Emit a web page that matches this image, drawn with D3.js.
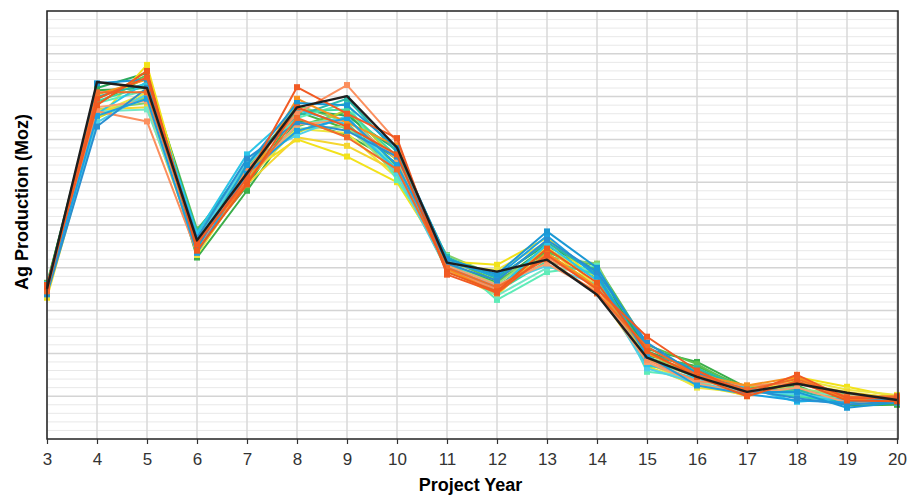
<!DOCTYPE html>
<html>
<head>
<meta charset="utf-8">
<script src="https://cdn.jsdelivr.net/npm/d3@7"></script>
<style>
  html, body { margin: 0; padding: 0; background: #fff; width: 100%; height: 100%; }
  svg { display: block; width: 100vw; height: 100vh; }
</style>
</head>
<body>
<svg id="chart"></svg>
<script>
// Project years on the x axis
const years = [3, 4, 5, 6, 7, 8, 9, 10, 11, 12, 13, 14, 15, 16, 17, 18, 19, 20];

// Base case (black line)
const baseCase = [3.51, 8.34, 8.20, 4.64, 6.21, 7.75, 8.01, 6.81, 4.12, 3.91, 4.19, 3.37, 1.90, 1.45, 1.10, 1.29, 1.08, 0.91];

// Simulated scenarios (drawn in this order)
const scenarioColors = [
  '#3aae4a', '#44b649', '#5cc24e', '#86d06a', '#2baa5c',
  '#9be07a', '#b8d432', '#f2e21a', '#ede640', '#f5d630',
  '#5eecb8', '#73e8c6', '#3fd9a0', '#27b8a8', '#4fd0e8',
  '#2cc5e8', '#f9a070', '#fb8f5e', '#f7931e', '#1ba1e2',
  '#2a8fd0', '#1a98d5', '#f26b2a', '#ee5a1e', '#f15a24'
];
const scenarioValues = [
  [3.58, 8.15, 8.20, 4.24, 5.80, 7.45, 7.10, 6.45, 4.10, 3.65, 4.50, 3.95, 2.10, 1.80, 1.20, 1.25, 0.78, 0.80],
  [3.50, 7.85, 8.45, 4.50, 5.90, 7.65, 7.25, 6.55, 4.00, 3.55, 4.40, 3.75, 1.95, 1.70, 1.18, 1.05, 0.88, 0.82],
  [3.65, 7.95, 8.50, 4.90, 6.25, 7.30, 7.65, 6.35, 4.20, 3.70, 4.35, 4.05, 2.20, 1.75, 1.12, 1.20, 0.92, 0.90],
  [3.42, 7.70, 7.85, 4.65, 6.15, 7.80, 7.40, 6.15, 4.30, 3.80, 4.25, 4.10, 1.90, 1.60, 1.08, 1.15, 1.05, 0.98],
  [3.60, 8.20, 8.55, 4.78, 6.35, 7.70, 7.55, 6.75, 4.22, 3.78, 4.55, 3.90, 2.05, 1.62, 1.12, 1.18, 0.86, 0.86],
  [3.48, 7.55, 8.05, 4.62, 6.10, 7.25, 7.30, 6.20, 4.08, 3.62, 4.45, 3.80, 1.85, 1.45, 1.10, 1.20, 0.98, 0.92],
  [3.55, 7.50, 8.00, 4.40, 6.35, 7.15, 7.70, 6.50, 3.90, 3.50, 4.30, 3.60, 1.85, 1.55, 1.22, 1.35, 0.98, 0.85],
  [3.30, 7.45, 8.74, 4.55, 6.20, 7.00, 6.60, 6.00, 4.15, 4.07, 4.70, 3.70, 1.70, 1.25, 1.02, 1.45, 1.22, 0.98],
  [3.35, 7.60, 8.10, 4.30, 6.05, 7.25, 7.15, 6.10, 4.05, 3.95, 4.60, 3.55, 1.80, 1.20, 1.08, 1.40, 1.15, 1.03],
  [3.40, 7.70, 7.75, 4.45, 5.95, 7.05, 6.85, 6.25, 3.95, 3.35, 4.50, 3.45, 1.75, 1.35, 1.00, 1.30, 1.10, 0.95],
  [3.50, 7.85, 8.15, 4.75, 6.40, 7.50, 7.85, 6.05, 4.28, 3.25, 3.90, 4.05, 1.57, 1.45, 1.12, 1.00, 0.95, 0.92],
  [3.46, 7.65, 7.70, 4.60, 6.10, 7.35, 7.50, 6.30, 4.18, 3.35, 4.00, 3.95, 1.65, 1.35, 1.18, 1.10, 1.00, 0.88],
  [3.56, 7.90, 8.25, 4.70, 6.30, 7.65, 7.70, 6.60, 4.12, 3.45, 4.15, 3.85, 1.70, 1.65, 1.15, 0.98, 0.88, 0.90],
  [3.52, 8.00, 8.30, 4.85, 6.45, 7.55, 7.95, 6.70, 4.25, 3.75, 4.60, 3.85, 2.00, 1.65, 1.15, 1.15, 0.80, 0.95],
  [3.45, 7.40, 8.05, 4.60, 6.50, 7.10, 7.55, 6.20, 3.95, 3.60, 4.05, 3.60, 1.65, 1.30, 1.10, 1.05, 0.90, 0.85],
  [3.62, 7.60, 8.35, 4.80, 6.65, 7.70, 7.35, 6.30, 4.05, 3.50, 4.55, 3.70, 1.75, 1.40, 1.20, 0.87, 0.95, 0.90],
  [3.58, 7.75, 7.90, 4.50, 6.05, 7.35, 7.45, 6.55, 4.05, 3.60, 4.10, 3.45, 1.80, 1.30, 1.05, 1.20, 0.85, 0.90],
  [3.50, 7.66, 7.42, 4.35, 6.30, 7.60, 8.27, 6.95, 3.95, 3.50, 4.25, 3.55, 1.85, 1.35, 1.25, 1.30, 1.00, 0.92],
  [3.52, 8.05, 8.40, 4.38, 6.00, 7.95, 7.40, 6.85, 3.98, 3.40, 4.35, 3.55, 2.00, 1.50, 1.25, 1.45, 0.92, 0.88],
  [3.48, 7.55, 7.95, 4.35, 6.20, 7.20, 7.50, 6.40, 4.15, 3.80, 4.75, 3.80, 1.95, 1.25, 1.05, 0.90, 0.85, 0.95],
  [3.38, 7.30, 8.20, 4.70, 6.55, 7.40, 7.20, 6.60, 4.10, 3.70, 4.65, 3.90, 2.25, 1.50, 1.15, 0.95, 0.80, 0.88],
  [3.40, 8.31, 8.40, 4.45, 6.40, 7.85, 7.80, 6.80, 4.20, 3.85, 4.85, 4.00, 2.15, 1.55, 1.10, 1.10, 0.73, 0.85],
  [3.45, 8.10, 8.10, 4.60, 6.00, 7.50, 7.05, 6.30, 4.00, 3.55, 4.20, 3.40, 2.15, 1.50, 1.15, 1.40, 0.98, 1.00],
  [3.60, 7.80, 8.60, 4.40, 5.95, 7.75, 7.30, 6.65, 3.90, 3.45, 4.45, 3.65, 2.05, 1.45, 1.00, 1.35, 0.90, 0.88],
  [3.55, 7.95, 8.45, 4.55, 6.10, 8.22, 7.60, 7.03, 3.84, 3.42, 4.30, 3.50, 2.39, 1.60, 1.05, 1.50, 0.95, 0.95]
];

const yDomain = [0, 10];

const width = 910, height = 497;
const margin = { top: 11, right: 12, bottom: 58, left: 47 };
const innerWidth = width - margin.left - margin.right;
const innerHeight = height - margin.top - margin.bottom;
const fontFamily = "'Liberation Sans', Arial, sans-serif";

const svg = d3.select('#chart')
  .attr('viewBox', `0 0 ${width} ${height}`)
  .attr('font-family', fontFamily);

const g = svg.append('g')
  .attr('transform', `translate(${margin.left},${margin.top})`);

// Scales
const x = d3.scaleLinear()
  .domain(d3.extent(years))
  .range([0, innerWidth - 1]);

const y = d3.scaleLinear()
  .domain(yDomain)
  .range([innerHeight, 0]);

// Horizontal gridlines (minor every 0.2, major every 1)
const isMajor = d => Math.abs(d - Math.round(d)) < 1e-6;
g.append('g')
  .selectAll('line')
  .data(d3.range(1, 50).map(i => i * 0.2))
  .join('line')
    .attr('x1', 0)
    .attr('x2', innerWidth)
    .attr('y1', d => y(d))
    .attr('y2', d => y(d))
    .attr('stroke', d => isMajor(d) ? '#d4d4d4' : '#e8e8e8')
    .attr('stroke-width', d => isMajor(d) ? 1.5 : 1);

// Vertical gridlines
g.append('g')
  .selectAll('line')
  .data(years)
  .join('line')
    .attr('x1', d => x(d))
    .attr('x2', d => x(d))
    .attr('y1', 0)
    .attr('y2', innerHeight)
    .attr('stroke', '#d9d9d9')
    .attr('stroke-width', 1.5);

// Scenario lines
const line = d3.line()
  .x((d, i) => x(years[i]))
  .y(d => y(d));

const scen = g.append('g');
scenarioValues.forEach((vals, k) => {
  const s = scen.append('g');
  s.append('path')
    .datum(vals)
    .attr('d', line)
    .attr('fill', 'none')
    .attr('stroke', scenarioColors[k])
    .attr('stroke-width', 2)
    .attr('stroke-linejoin', 'round');
  s.selectAll('rect')
    .data(vals)
    .join('rect')
      .attr('x', (d, i) => x(years[i]) - 3)
      .attr('y', d => y(d) - 3)
      .attr('width', 6)
      .attr('height', 6)
      .attr('fill', scenarioColors[k]);
});

// Base case on top
g.append('path')
  .datum(baseCase)
  .attr('d', line)
  .attr('fill', 'none')
  .attr('stroke', '#1e1e1e')
  .attr('stroke-width', 2.4)
  .attr('stroke-linejoin', 'round');

// Frame
g.append('rect')
  .attr('x', 0)
  .attr('y', 0)
  .attr('width', innerWidth)
  .attr('height', innerHeight)
  .attr('fill', 'none')
  .attr('stroke', '#222')
  .attr('stroke-width', 1.5);

// X axis
const xAxis = g.append('g')
  .attr('transform', `translate(0,${innerHeight})`)
  .call(d3.axisBottom(x).tickValues(years).tickFormat(d3.format('d')).tickSize(5).tickPadding(9))
  .attr('font-size', 17)
  .attr('font-family', fontFamily);
xAxis.select('.domain').remove();
xAxis.selectAll('line').attr('stroke', '#333').attr('stroke-width', 1.2);
xAxis.selectAll('text').attr('fill', '#333');

// Axis titles
svg.append('text')
  .attr('x', margin.left + innerWidth / 2 - 2)
  .attr('y', 491)
  .attr('text-anchor', 'middle')
  .attr('font-size', 18)
  .attr('font-weight', 'bold')
  .text('Project Year');

svg.append('text')
  .attr('transform', 'translate(28,202) rotate(-90)')
  .attr('text-anchor', 'middle')
  .attr('font-size', 18)
  .attr('font-weight', 'bold')
  .text('Ag Production (Moz)');
</script>
</body>
</html>
